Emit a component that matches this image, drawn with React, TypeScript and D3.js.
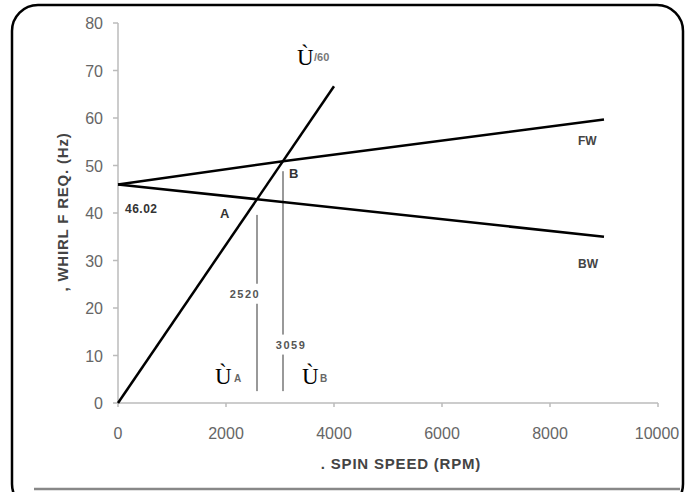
import * as d3 from "d3";

// whirl frequency map (Campbell diagram)
const fwRpm = [0, 3056, 9000];
const fwHz = [46.02, 50.9, 59.7];
const bwRpm = [0, 2574, 9000];
const bwHz = [46.02, 42.9, 35.0];
const syncRpm = [0, 4000];
const syncHz = [0, 66.67];
const xTicks = [0, 2000, 4000, 6000, 8000, 10000];
const yTicks = [0, 10, 20, 30, 40, 50, 60, 70, 80];
// critical speeds: position, top of marker, label gap
const critRpm = [2574, 3056];
const critTop = [39.6, 48.8];
const critLabel = ["2520", "3059"];
const critLabelHz = [23, 12.3];
const critSub = ["A", "B"];

const W = 691;
const H = 492;
const x = d3.scaleLinear().domain([0, 10000]).range([118, 658]);
const y = d3.scaleLinear().domain([0, 80]).range([403, 23]);

const line = d3.line<[number, number]>().x(d => x(d[0])).y(d => y(d[1]));
const zip = (a: number[], b: number[]) => a.map((v, i) => [v, b[i]] as [number, number]);

const sans = "'Liberation Sans', Arial, sans-serif";
const serif = "'Liberation Serif', 'Times New Roman', serif";

export default function App() {
  return (
    <div style={{ position: "fixed", left: 0, top: 0, width: W, height: H, background: "#fff" }}>
      <svg width={W} height={H} style={{ display: "block" }}>
        {/* frame */}
        <rect x={12} y={5} width={671} height={505} rx={26} ry={26} fill="#fff" stroke="#000" strokeWidth={2.5} />
        <line x1={34} x2={680} y1={489} y2={489} stroke="#888" strokeWidth={2.5} />

        {/* axes */}
        <line x1={x(0)} x2={x(0)} y1={y(0)} y2={y(80)} stroke="#bbb" strokeWidth={1.5} />
        <line x1={x(0)} x2={x(10000)} y1={y(0)} y2={y(0)} stroke="#bbb" strokeWidth={1.5} />
        {yTicks.map(t => (
          <g key={"y" + t}>
            <line x1={x(0) - 5} x2={x(0)} y1={y(t)} y2={y(t)} stroke="#bbb" strokeWidth={1.5} />
            <text x={103} y={y(t) + 6} textAnchor="end" fontFamily={sans} fontSize={16} fill="#666">{t}</text>
          </g>
        ))}
        {xTicks.map(t => (
          <g key={"x" + t}>
            <line x1={x(t)} x2={x(t)} y1={y(0)} y2={y(0) + 4} stroke="#bbb" strokeWidth={1.5} />
            <text x={t === 10000 ? 657 : x(t)} y={439} textAnchor="middle" fontFamily={sans} fontSize={16} fill="#666">{t}</text>
          </g>
        ))}
        <text x={401} y={469} textAnchor="middle" fontFamily={sans} fontSize={15} fontWeight="bold" letterSpacing={0.8} fill="#444">. SPIN SPEED (RPM)</text>
        <text transform="translate(68,212) rotate(-90)" textAnchor="middle" fontFamily={sans} fontSize={15} fontWeight="bold" letterSpacing={0.8} fill="#444">, WHIRL F REQ. (Hz)</text>

        {/* critical speed markers */}
        {critRpm.map((r, i) => (
          <g key={"c" + i}>
            <line x1={x(r)} x2={x(r)} y1={y(critTop[i])} y2={y(2.5)} stroke="#999" strokeWidth={2} />
            <rect x={x(r) - (i === 0 ? 31 : 11)} y={y(critLabelHz[i]) - 10} width={42} height={20} fill="#fff" />
            <text x={x(r) - (i === 0 ? 12 : -8)} y={y(critLabelHz[i]) + 4} textAnchor="middle" fontFamily={sans} fontSize={11} fontWeight="bold" letterSpacing={1.5} fill="#555">{critLabel[i]}</text>
            <text x={x(r) - (i === 0 ? 42 : -19)} y={384} fontFamily={serif} fontSize={23} fill="#000">Ù</text>
            <text x={x(r) - (i === 0 ? 23 : -37)} y={382} fontFamily={sans} fontSize={10} fontWeight="bold" fill="#666">{critSub[i]}</text>
          </g>
        ))}

        {/* curves */}
        <path d={line(zip(fwRpm, fwHz)) ?? ""} fill="none" stroke="#000" strokeWidth={2.5} />
        <path d={line(zip(bwRpm, bwHz)) ?? ""} fill="none" stroke="#000" strokeWidth={2.5} />
        <path d={line(zip(syncRpm, syncHz)) ?? ""} fill="none" stroke="#000" strokeWidth={2.5} />

        {/* annotations */}
        <text x={297} y={65} fontFamily={serif} fontSize={23} fill="#000">Ù</text>
        <text x={314} y={61} fontFamily={sans} fontSize={11} fontWeight="bold" fill="#777">/60</text>
        <text x={125} y={213} fontFamily={sans} fontSize={12} fontWeight="bold" letterSpacing={0.5} fill="#333">46.02</text>
        <text x={220} y={218} fontFamily={sans} fontSize={13} fontWeight="bold" fill="#333">A</text>
        <text x={289} y={178} fontFamily={sans} fontSize={13} fontWeight="bold" fill="#333">B</text>
        <text x={578} y={145} fontFamily={sans} fontSize={12} fontWeight="bold" fill="#444">FW</text>
        <text x={578} y={268} fontFamily={sans} fontSize={12} fontWeight="bold" fill="#444">BW</text>
      </svg>
    </div>
  );
}
